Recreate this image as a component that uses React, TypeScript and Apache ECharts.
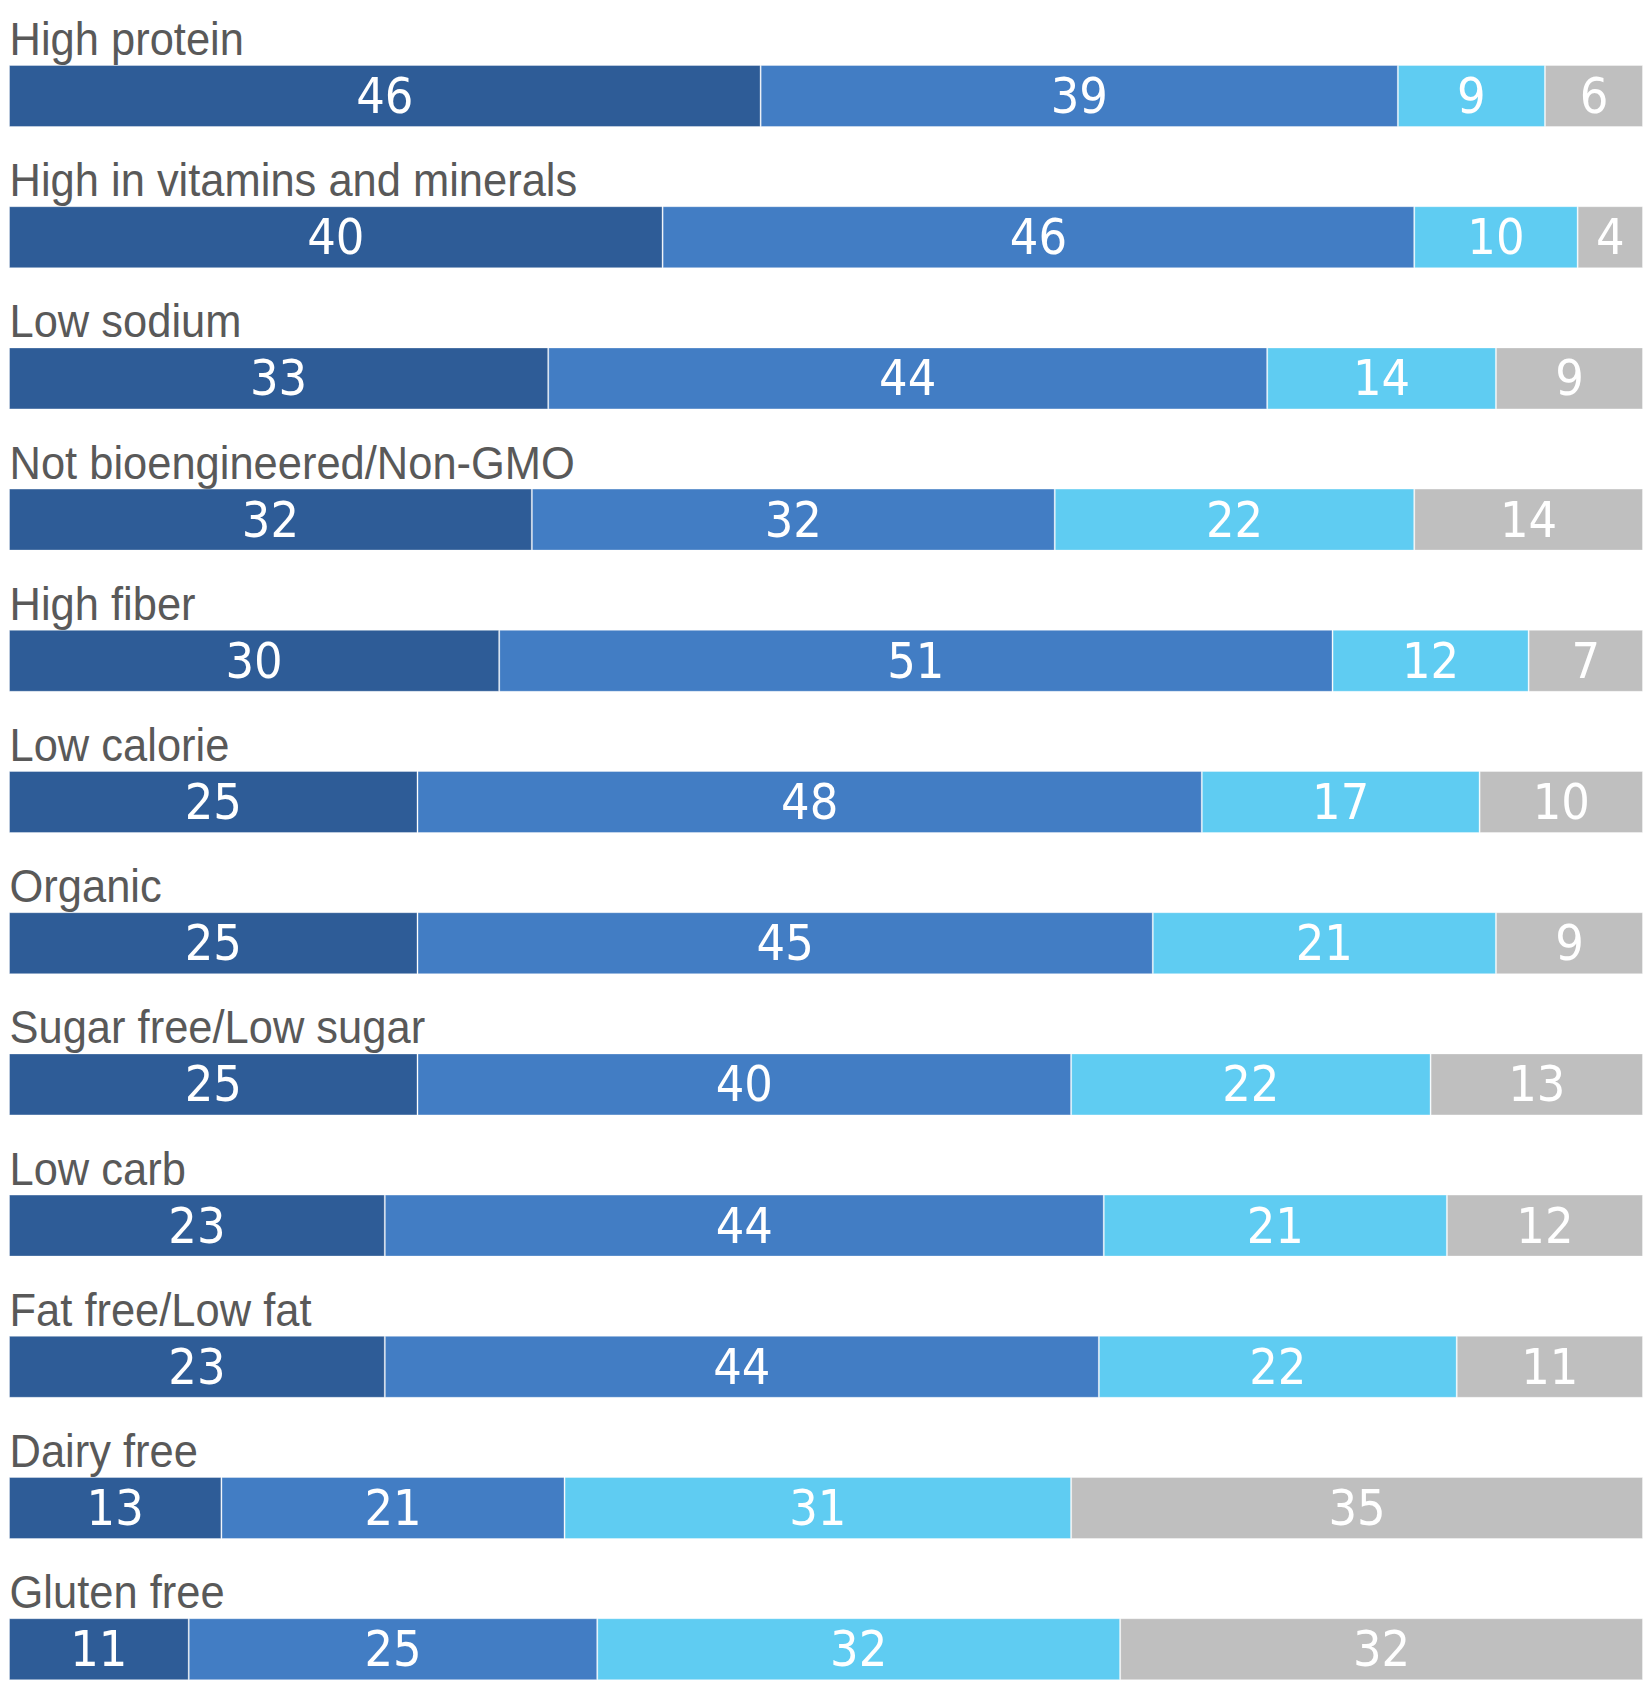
import React, { useEffect, useRef } from "react";
import * as echarts from "echarts";

const categories = [
  "High protein",
  "High in vitamins and minerals",
  "Low sodium",
  "Not bioengineered/Non-GMO",
  "High fiber",
  "Low calorie",
  "Organic",
  "Sugar free/Low sugar",
  "Low carb",
  "Fat free/Low fat",
  "Dairy free",
  "Gluten free",
];

const seriesA = [46, 40, 33, 32, 30, 25, 25, 25, 23, 23, 13, 11];
const seriesB = [39, 46, 44, 32, 51, 48, 45, 40, 44, 43.7, 21, 25];
const seriesC = [9, 10, 14, 22, 12, 17, 21, 22, 21, 21.9, 31, 32];
const seriesD = [6, 4, 9, 14, 7, 10, 9, 13, 12, 11.4, 35, 32];

const seriesData = [seriesA, seriesB, seriesC, seriesD];
const colors = ["#2E5C97", "#427DC4", "#5FCCF2", "#BFBFBF"];

export default function App() {
  const ref = useRef<HTMLDivElement>(null);
  useEffect(() => {
    document.body.style.margin = "0";
    const chart = echarts.init(ref.current!, null, { renderer: "svg" });
    chart.setOption({
      animation: false,
      backgroundColor: "#ffffff",
      grid: {
        left: 9,
        right: 8,
        top: 25.4,
        height: 1694.4,
        containLabel: false,
        outerBoundsMode: "none",
      },
      xAxis: {
        type: "value",
        min: 0,
        max: 100,
        show: false,
      },
      yAxis: {
        type: "category",
        data: categories,
        inverse: true,
        axisLine: { show: false },
        axisTick: { show: false },
        splitLine: { show: false },
        axisLabel: { show: false },
      },
      series: seriesData.map((d, i) => ({
        type: "bar",
        stack: "total",
        data: d,
        barWidth: 62,
        itemStyle: {
          color: colors[i],
          borderColor: "rgba(255,255,255,0.35)",
          borderWidth: 1,
        },
        label: {
          show: true,
          position: "inside",
          color: "#ffffff",
          fontSize: 50,
          fontFamily: "'DejaVu Sans Condensed', 'DejaVu Sans', sans-serif",
          formatter: (p: any) => String(Math.round(p.value)),
        },
      })),
    });
    const graphics = categories.map((name, i) => {
      const cy = chart.convertToPixel({ yAxisIndex: 0 }, i) as number;
      return {
        type: "text",
        x: 9.5,
        y: cy - 57,
        scaleX: 0.925,
        silent: true,
        style: {
          text: name,
          fill: "#595959",
          fontSize: 47,
          fontFamily: "'Liberation Sans', Arial, sans-serif",
          align: "left",
          verticalAlign: "middle",
        },
      };
    });
    chart.setOption({ graphic: graphics });
    return () => chart.dispose();
  }, []);
  return <div ref={ref} style={{ width: 1651, height: 1687 }} />;
}
